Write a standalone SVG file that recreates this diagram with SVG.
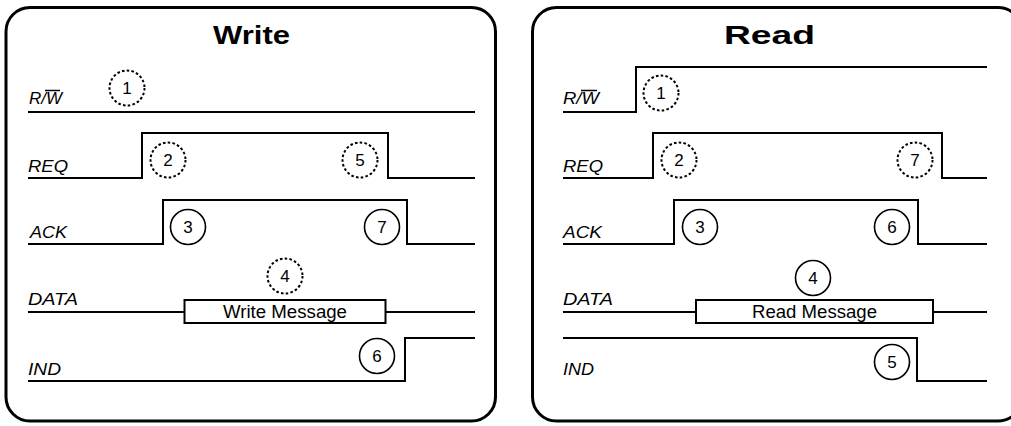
<svg xmlns="http://www.w3.org/2000/svg" width="1011" height="426" viewBox="0 0 1011 426">
<style>
.panel{fill:#fff;stroke:#000;stroke-width:3}
.sig{fill:none;stroke:#000;stroke-width:2}
.box{fill:#fff;stroke:#000;stroke-width:2}
.title{font-family:"Liberation Sans",Arial,sans-serif;font-weight:bold;font-size:25px;text-anchor:middle}
.lbl{font-family:"Liberation Sans",Arial,sans-serif;font-style:italic;font-size:17px}
.msg{font-family:"Liberation Sans",Arial,sans-serif;font-size:17.5px}
.num{font-family:"Liberation Sans",Arial,sans-serif;font-size:17px;text-anchor:middle}
.cs{fill:#fff;stroke:#000;stroke-width:1.6}
.cd{fill:#fff;stroke:#000;stroke-width:2;stroke-dasharray:2.6 2.2}
</style>
<rect width="1011" height="426" fill="#fff"/>
<g id="panel-write">
<rect class="panel" x="6" y="7.5" width="489.5" height="413.5" rx="24"/>
<text class="title" x="251.5" y="44" textLength="77" lengthAdjust="spacingAndGlyphs">Write</text>
</g>
<g id="panel-read">
<rect class="panel" x="532.5" y="7.5" width="489.5" height="413.5" rx="24"/>
<text class="title" x="769.5" y="44" textLength="91" lengthAdjust="spacingAndGlyphs">Read</text>
</g>
<g id="labels-write">
<text class="lbl" x="29" y="104" textLength="33" lengthAdjust="spacingAndGlyphs">R/W</text>
<line x1="45" y1="90.5" x2="60" y2="90.5" stroke="#000" stroke-width="1.5"/>
<text class="lbl" x="28" y="171.5" textLength="40" lengthAdjust="spacingAndGlyphs">REQ</text>
<text class="lbl" x="30" y="237.7" textLength="37" lengthAdjust="spacingAndGlyphs">ACK</text>
<text class="lbl" x="28" y="305" textLength="50" lengthAdjust="spacingAndGlyphs">DATA</text>
<text class="lbl" x="28" y="375" textLength="33" lengthAdjust="spacingAndGlyphs">IND</text>
</g>
<g id="labels-read">
<text class="lbl" x="563" y="104" textLength="36" lengthAdjust="spacingAndGlyphs">R/W</text>
<line x1="581" y1="90.5" x2="597" y2="90.5" stroke="#000" stroke-width="1.5"/>
<text class="lbl" x="563" y="171.5" textLength="40" lengthAdjust="spacingAndGlyphs">REQ</text>
<text class="lbl" x="563" y="237.7" textLength="39" lengthAdjust="spacingAndGlyphs">ACK</text>
<text class="lbl" x="563" y="305" textLength="50" lengthAdjust="spacingAndGlyphs">DATA</text>
<text class="lbl" x="563" y="375" textLength="31" lengthAdjust="spacingAndGlyphs">IND</text>
</g>
<g id="connectors">
<path class="sig" d="M28 112 H475"/>
<path class="sig" d="M28 178 H142 V133 H388 V178 H475"/>
<path class="sig" d="M28 244 H163 V200 H407 V244 H475"/>
<path class="sig" d="M28 312 H184 M386 312 H475"/>
<path class="sig" d="M28 381 H405 V338 H475"/>
<path class="sig" d="M563 112 H636 V67 H987"/>
<path class="sig" d="M563 178 H653 V133 H942 V178 H987"/>
<path class="sig" d="M563 244 H674 V200 H918 V244 H987"/>
<path class="sig" d="M563 312 H696 M933 312 H987"/>
<path class="sig" d="M563 338 H917 V381 H987"/>
</g>
<g id="msg-write">
<rect class="box" x="184.5" y="300" width="201" height="23"/>
<text class="msg" x="223" y="317.5" textLength="124" lengthAdjust="spacingAndGlyphs">Write Message</text>
</g>
<g id="msg-read">
<rect class="box" x="696" y="300" width="237" height="23"/>
<text class="msg" x="752" y="317.5" textLength="125" lengthAdjust="spacingAndGlyphs">Read Message</text>
</g>
<g id="w1"><circle class="cd" cx="127" cy="88" r="17.5"/><text class="num" x="127" y="94">1</text></g>
<g id="w2"><circle class="cd" cx="168" cy="160" r="17.5"/><text class="num" x="168" y="166">2</text></g>
<g id="w5"><circle class="cd" cx="360" cy="160" r="17.5"/><text class="num" x="360" y="166">5</text></g>
<g id="w3"><circle class="cs" cx="188" cy="227" r="17.5"/><text class="num" x="188" y="233">3</text></g>
<g id="w7"><circle class="cs" cx="382" cy="227" r="17.5"/><text class="num" x="382" y="233">7</text></g>
<g id="w4"><circle class="cd" cx="285" cy="276" r="17.5"/><text class="num" x="285" y="282">4</text></g>
<g id="w6"><circle class="cs" cx="377" cy="356" r="17.5"/><text class="num" x="377" y="362">6</text></g>
<g id="r1"><circle class="cd" cx="661" cy="93" r="17.5"/><text class="num" x="661" y="99">1</text></g>
<g id="r2"><circle class="cd" cx="679" cy="160" r="17.5"/><text class="num" x="679" y="166">2</text></g>
<g id="r7"><circle class="cd" cx="915" cy="160" r="17.5"/><text class="num" x="915" y="166">7</text></g>
<g id="r3"><circle class="cs" cx="700" cy="227" r="17.5"/><text class="num" x="700" y="233">3</text></g>
<g id="r6"><circle class="cs" cx="892" cy="227" r="17.5"/><text class="num" x="892" y="233">6</text></g>
<g id="r4"><circle class="cs" cx="813" cy="278" r="17.5"/><text class="num" x="813" y="284">4</text></g>
<g id="r5"><circle class="cs" cx="892" cy="362" r="17.5"/><text class="num" x="892" y="368">5</text></g>
</svg>
